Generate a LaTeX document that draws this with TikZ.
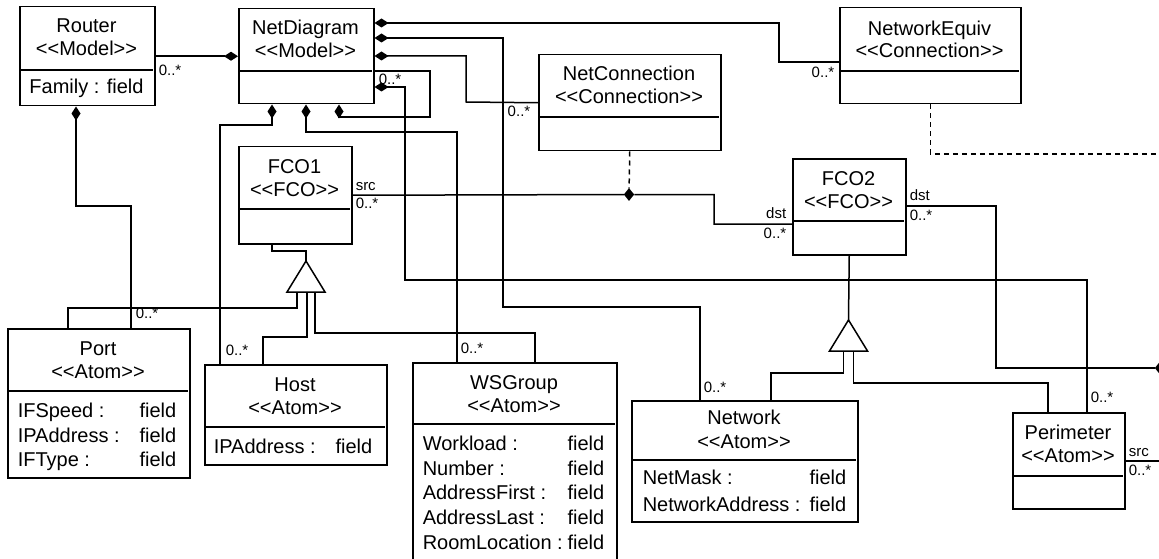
\documentclass[tikz,border=0pt]{standalone}
\usepackage{fontspec}
\setmainfont{Liberation Sans}
\usetikzlibrary{arrows.meta, shapes.geometric}

\newcommand{\stereo}[1]{<\kern0pt<#1>\kern0pt>}

\begin{document}
\begin{tikzpicture}[x=1pt, y=-1pt, line width=1.5pt,
        cls/.style={draw, anchor=north west, inner sep=0pt},
        ttl/.style={anchor=base, inner sep=0pt, font=\fontsize{20}{24}\selectfont},
        attr/.style={anchor=base west, inner sep=0pt, font=\fontsize{20}{24}\selectfont},
        fld/.style={anchor=base east, inner sep=0pt, font=\fontsize{20}{24}\selectfont},
        mult/.style={anchor=base west, inner sep=0pt, font=\fontsize{15}{18}\selectfont},
        multr/.style={mult, anchor=base east},
        comp/.style={{Diamond[length=14pt,width=9pt]}-},
        jct/.style={diamond, draw, fill, inner sep=0pt, minimum width=9pt, minimum height=11pt},
        genl/.style={fill=white}]
    \path[use as bounding box, fill=white] (0,0) rectangle (1159,559);

    % classes
    \node[cls, minimum width=135pt, minimum height=99pt]  (router) at (19,6)    {};
    \node[cls, minimum width=135pt, minimum height=95pt]  (nd)     at (238,8)   {};
    \node[cls, minimum width=181pt, minimum height=96pt]  (neq)    at (839,7)   {};
    \node[cls, minimum width=182pt, minimum height=96pt]  (nc)     at (538,54)  {};
    \node[cls, minimum width=113pt, minimum height=97pt]  (fco1)   at (238,146) {};
    \node[cls, minimum width=113pt, minimum height=96pt]  (fco2)   at (792,158) {};
    \node[cls, minimum width=182pt, minimum height=149pt] (port)   at (7,328)   {};
    \node[cls, minimum width=182pt, minimum height=100pt] (host)   at (204,364) {};
    \node[cls, minimum width=204pt, minimum height=215pt] (ws)     at (412,362) {};
    \node[cls, minimum width=226pt, minimum height=121pt] (net)    at (631,400) {};
    \node[cls, minimum width=112pt, minimum height=96pt]  (per)    at (1012,412) {};

    \foreach \b/\d in {router/64, nd/63, neq/64, nc/63, fco1/63, fco2/63, port/63, host/63, ws/62, net/60, per/64}
        \draw ([yshift=-\d]\b.north west) -- ([xshift=-3, yshift=-\d]\b.north east);

    % names and stereotypes
    \node[ttl] (routerN) at (86.5,33)  {Router};
    \node[ttl] (routerS) at (86.5,56)  {\stereo{Model}};
    \node[ttl] (ndN)     at (305.5,35) {NetDiagram};
    \node[ttl] (ndS)     at (305.5,58) {\stereo{Model}};
    \node[ttl] (neqN)    at (929.5,36) {NetworkEquiv};
    \node[ttl] (neqS)    at (929.5,58) {\stereo{Connection}};
    \node[ttl] (ncN)     at (629,81)   {NetConnection};
    \node[ttl] (ncS)     at (629,104)  {\stereo{Connection}};
    \node[ttl] (fco1N)   at (294.5,173) {FCO1};
    \node[ttl] (fco1S)   at (294.5,196) {\stereo{FCO}};
    \node[ttl] (fco2N)   at (848.5,185) {FCO2};
    \node[ttl] (fco2S)   at (848.5,208) {\stereo{FCO}};
    \node[ttl] (portN)   at (98,355)   {Port};
    \node[ttl] (portS)   at (98,378)   {\stereo{Atom}};
    \node[ttl] (hostN)   at (295,391)  {Host};
    \node[ttl] (hostS)   at (295,414)  {\stereo{Atom}};
    \node[ttl] (wsN)     at (514,389)  {WSGroup};
    \node[ttl] (wsS)     at (514,412)  {\stereo{Atom}};
    \node[ttl] (netN)    at (744,424)  {Network};
    \node[ttl] (netS)    at (744,448)  {\stereo{Atom}};
    \node[ttl] (perN)    at (1068,439) {Perimeter};
    \node[ttl] (perS)    at (1068,462) {\stereo{Atom}};

    % attributes
    \node[ttl]  (routerA1) at (86.5,94) {Family : field};
    \node[attr] (portA1)  at (17,417)  {IFSpeed :};
    \node[attr] (portA2)  at (17,442)  {IPAddress :};
    \node[attr] (portA3)  at (17,466)  {IFType :};
    \node[fld]  (portF1)  at (177,417) {field};
    \node[fld]  (portF2)  at (177,442) {field};
    \node[fld]  (portF3)  at (177,466) {field};
    \node[attr] (hostA1)  at (213,453) {IPAddress :};
    \node[fld]  (hostF1)  at (373,453) {field};
    \node[attr] (wsA1)    at (422,450) {Workload :};
    \node[attr] (wsA2)    at (422,475) {Number :};
    \node[attr] (wsA3)    at (422,499) {AddressFirst :};
    \node[attr] (wsA4)    at (422,524) {AddressLast :};
    \node[attr] (wsA5)    at (422,549) {RoomLocation :};
    \node[fld]  (wsF1)    at (605,450) {field};
    \node[fld]  (wsF2)    at (605,475) {field};
    \node[fld]  (wsF3)    at (605,499) {field};
    \node[fld]  (wsF4)    at (605,524) {field};
    \node[fld]  (wsF5)    at (605,549) {field};
    \node[attr] (netA1)   at (642,484) {NetMask :};
    \node[attr] (netA2)   at (642,511) {NetworkAddress :};
    \node[fld]  (netF1)   at (847,484) {field};
    \node[fld]  (netF2)   at (847,511) {field};

    % containment
    \draw[comp] (nd.west) -- (router.east);
    \draw[comp] ([yshift=-15]nd.north east) -| (779,62) -- ([yshift=-55]neq.north west);
    \draw[comp] ([yshift=-30]nd.north east) -| (503,307) -| ([xshift=69]net.north west);
    \draw[comp] ([yshift=-48]nd.north east) -| (466,102) -- (nc.west);
    \draw[comp] ([yshift=-79]nd.north east) -| (405,280) -| ([xshift=75]per.north west);
    \draw[comp] ([xshift=101]nd.south west) |- (430,117) |- ([yshift=-63]nd.north east);
    \draw[comp] ([xshift=34]nd.south west) |- (220,125) -- ([xshift=16]host.north west);
    \draw[comp] ([xshift=68]nd.south west) |- (457,132) -- ([xshift=45]ws.north west);
    \draw[comp] ([xshift=57]router.south west) |- (131,206) -- ([xshift=124]port.north west);

    % connections
    \node[jct] (ncj)  at (629,194.5) {};
    \node[jct] (rjct) at (1160,368)  {};
    \coordinate (eqend)  at (1162,154);
    \coordinate (srcend) at (1162,461);
    \draw[dashed, dash pattern=on 5pt off 4pt] (nc.south) -- (ncj);
    \draw[dashed, dash pattern=on 5pt off 4pt] (neq.south) |- (eqend);
    \draw (fco1.east) -- (ncj) -| (714,224) -- ([yshift=-66]fco2.north west);
    \draw ([yshift=-48]fco2.north east) -| (996,368) -- (rjct);
    \draw ([yshift=-49]per.north east) -- (srcend);

    % inheritance
    \coordinate (g1)  at (306,261);
    \coordinate (g1b) at (306,292);
    \coordinate (g2)  at (848.5,320);
    \coordinate (g2b) at (848.5,351);
    \draw ([xshift=34]fco1.south west) |- (306,251) -- (g1);
    \draw ([xshift=-9]g1b) |- (68,308) -- ([xshift=61]port.north west);
    \draw ([xshift=1]g1b) |- (263,337) -- ([xshift=59]host.north west);
    \draw ([xshift=9]g1b) |- (535,333) -- ([xshift=123]ws.north west);
    \draw (fco2.south) -- (g2);
    \draw ([xshift=-5]g2b) |- (771,373) -- ([xshift=140]net.north west);
    \draw ([xshift=5]g2b) |- (1048,383) -- ([xshift=36]per.north west);
    \draw[genl] (g1) -- ++(-19,31) -- ++(38,0) -- cycle;
    \draw[genl] (g2) -- ++(-19,31) -- ++(38,0) -- cycle;

    % roles and multiplicities
    \node[mult]  (mRouter) at (158,76)  {0..*};
    \node[mult]  (mLoop)   at (378,85)  {0..*};
    \node[multr] (mNc)     at (531,117) {0..*};
    \node[multr] (mNeq)    at (835,78)  {0..*};
    \node[mult]  (srcA)    at (355,190) {src};
    \node[mult]  (mSrcA)   at (355,208) {0..*};
    \node[multr] (dstA)    at (787,218) {dst};
    \node[multr] (mDstA)   at (787,238) {0..*};
    \node[mult]  (dstB)    at (909,200) {dst};
    \node[mult]  (mDstB)   at (909,220) {0..*};
    \node[mult]  (mPort)   at (135,318) {0..*};
    \node[mult]  (mHost)   at (225,355) {0..*};
    \node[mult]  (mWs)     at (460,353) {0..*};
    \node[mult]  (mNet)    at (703,392) {0..*};
    \node[mult]  (mPer)    at (1090,402) {0..*};
    \node[mult]  (srcB)    at (1128,456) {src};
    \node[mult]  (mSrcB)   at (1128,475) {0..*};
\end{tikzpicture}
\end{document}
